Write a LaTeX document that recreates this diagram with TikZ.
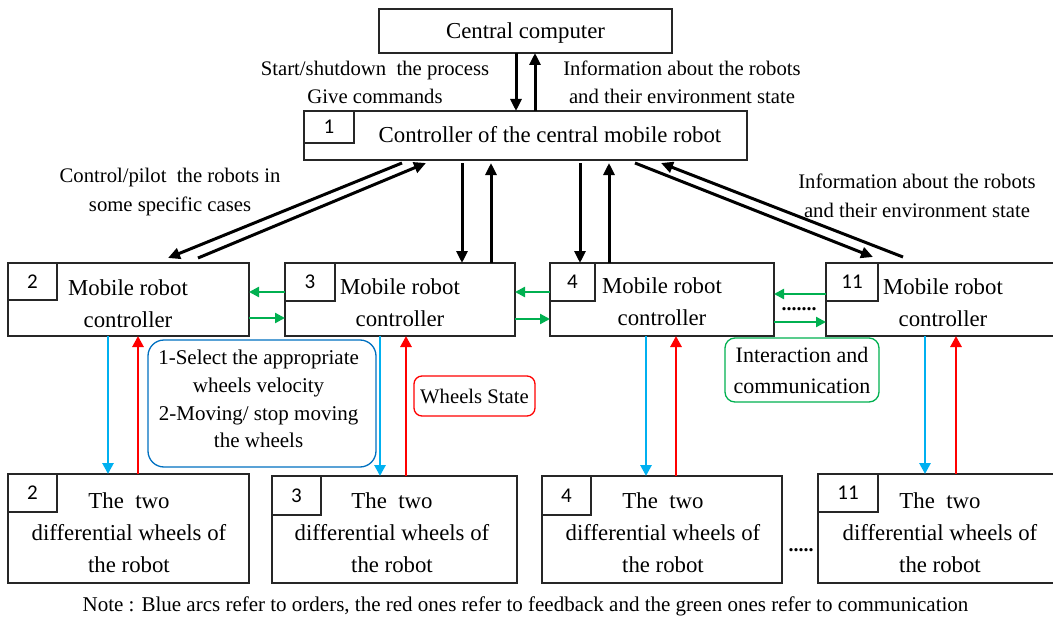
\documentclass[tikz,border=0pt]{standalone}
\usepackage{fontspec}
\setmainfont{Liberation Serif}
\newfontfamily\numfont{Carlito}
\usetikzlibrary{arrows.meta,calc}
\definecolor{ablue}{RGB}{0,176,240}
\definecolor{ared}{RGB}{255,0,0}
\definecolor{agreen}{RGB}{0,176,80}
\definecolor{bblue}{RGB}{0,112,192}
\begin{document}
\begin{tikzpicture}[x=1pt,y=-1pt,
  box/.style={draw=black!85, line width=1.3pt, inner sep=0pt, outer sep=0pt},
  numbox/.style={box, anchor=north west, font=\numfont\fontsize{21}{21}\selectfont},
  btxt/.style={font=\fontsize{22.8}{32}\selectfont, align=center, inner sep=0pt},
  ltxt/.style={font=\fontsize{20.7}{28.5}\selectfont, align=center, inner sep=0pt},
  karr/.style={line width=3pt, -{Triangle[length=12pt,width=11pt]}},
  barr/.style={ablue, line width=2.8pt, -{Triangle[length=11pt,width=11pt]}},
  rarr/.style={ared, line width=2.8pt, -{Triangle[length=11pt,width=11pt]}},
  garr/.style={agreen, line width=2.3pt, -{Triangle[length=10pt,width=10pt]}},
  rbox/.style={draw, line width=1.3pt, inner sep=0pt, align=center}
]
\useasboundingbox (0,0) rectangle (1053,618);
% top boxes
\node[box, minimum width=293pt, minimum height=44pt] (cc) at (525.5,31) {};
\node[btxt] (cct) at (525.5,33) {Central computer};
\node[box, minimum width=443pt, minimum height=49pt] (c1) at (525.5,135.5) {};
\node[numbox, minimum width=50pt, minimum height=32pt] (n1) at (c1.north west) {1};
\node[btxt] (c1t) at (550,135) {Controller of the central mobile robot};
% labels top
\node[ltxt] (l1) at (375,82.5) {Start/shutdown\ \ the process\\Give commands};
\node[ltxt] (l2) at (682,82.5) {Information about the robots\\and their environment state};
\node[ltxt] (l3) at (170,192) {Control/pilot\ \ the robots in\\some specific cases};
\node[ltxt] (l4) at (917,196) {Information about the robots\\and their environment state};
% row 2
\node[box, minimum width=241pt, minimum height=73pt] (m2) at (128.5,299.5) {};
\node[box, minimum width=230pt, minimum height=73pt] (m3) at (400,299.5) {};
\node[box, minimum width=224pt, minimum height=73pt] (m4) at (662,299.5) {};
\node[box, minimum width=236pt, minimum height=73pt] (m11) at (944,299.5) {};
\node[numbox, minimum width=49pt, minimum height=37pt] (n2) at (m2.north west) {2};
\node[numbox, minimum width=50pt, minimum height=38pt] (n3) at (m3.north west) {3};
\node[numbox, minimum width=45pt, minimum height=38pt] (n4) at (m4.north west) {4};
\node[numbox, minimum width=52pt, minimum height=38pt] (n11) at (m11.north west) {11};
\node[btxt] (m2t) at (128,303.5) {Mobile robot\\controller};
\node[btxt] (m3t) at (400,302.5) {Mobile robot\\controller};
\node[btxt] (m4t) at (662,301.5) {Mobile robot\\controller};
\node[btxt] (m11t) at (943,303) {Mobile robot\\controller};
% bottom row
\node[box, minimum width=241pt, minimum height=109pt] (b2) at (128.5,528.5) {};
\node[box, minimum width=245pt, minimum height=107pt] (b3) at (394.5,529.5) {};
\node[box, minimum width=240pt, minimum height=107pt] (b4) at (662,529.5) {};
\node[box, minimum width=244pt, minimum height=109pt] (b11) at (940,528.5) {};
\node[numbox, minimum width=49pt, minimum height=38pt] (nb2) at (b2.north west) {2};
\node[numbox, minimum width=49pt, minimum height=39pt] (nb3) at (b3.north west) {3};
\node[numbox, minimum width=49pt, minimum height=39pt] (nb4) at (b4.north west) {4};
\node[numbox, minimum width=60pt, minimum height=38pt] (nb11) at (b11.north west) {11};
\node[btxt] (b2t) at (129,532.5) {The\ \ two\\differential wheels of\\the robot};
\node[btxt] (b3t) at (392,533) {The\ \ two\\differential wheels of\\the robot};
\node[btxt] (b4t) at (663,533) {The\ \ two\\differential wheels of\\the robot};
\node[btxt] (b11t) at (940,532.5) {The\ \ two\\differential wheels of\\the robot};
% annotation boxes
\node[rbox, draw=bblue, rounded corners=16pt, minimum width=228pt, minimum height=127pt] (bl) at (262,403.5) {};
\node[btxt, font=\fontsize{21}{27.7}\selectfont] (blt) at (258.6,399)
      {1-Select the appropriate\\wheels velocity\\2-Moving/ stop moving\\the wheels};
\node[rbox, draw=ared, rounded corners=8pt, minimum width=121pt, minimum height=40pt,
      font=\fontsize{20.7}{24}\selectfont] (rd) at (474.5,396) {Wheels State};
\node[rbox, draw=agreen, rounded corners=10pt, minimum width=154pt, minimum height=64pt,
      font=\fontsize{22}{31}\selectfont] (gr) at (802,370) {Interaction and\\communication};
\node[font=\bfseries\fontsize{20}{20}\selectfont, inner sep=0pt] (d1) at (799,309) {.......};
\node[font=\bfseries\fontsize{20}{20}\selectfont, inner sep=0pt] (d2) at (801,550) {.....};
\node[ltxt, font=\fontsize{21}{24}\selectfont] (note) at (525.5,606)
  {Note : Blue arcs refer to orders, the red ones refer to feedback and the green ones refer to communication};
% black arrows
\draw[karr] ($(cc.south)+(-9.5,0)$) -- ($(c1.north)+(-9.5,0)$);
\draw[karr] ($(c1.north)+(9.5,0)$) -- ($(cc.south)+(9.5,0)$);
\draw[karr] ($(c1.south)+(-123.5,3)$) -- ($(m2.north)+(39.5,-5)$);
\draw[karr] ($(m2.north)+(69.5,-5)$) -- ($(c1.south)+(-99.5,3)$);
\draw[karr] ($(c1.south)+(-63.5,3)$) -- ($(m3.north)+(62,0)$);
\draw[karr] ($(m3.north)+(91,0)$) -- ($(c1.south)+(-34.5,3)$);
\draw[karr] ($(c1.south)+(54.5,3)$) -- ($(m4.north)+(-82,0)$);
\draw[karr] ($(m4.north)+(-53,0)$) -- ($(c1.south)+(83.5,3)$);
\draw[karr] ($(c1.south)+(109.5,3)$) -- ($(m11.north)+(-71,-6)$);
\draw[karr] ($(m11.north)+(-41,-6)$) -- ($(c1.south)+(135.5,3)$);
% green arrows
\draw[garr] ($(m3.west)+(0,-7.5)$) -- ($(m2.east)+(0,-7.5)$);
\draw[garr] ($(m2.east)+(0,18.5)$) -- ($(m3.west)+(0,18.5)$);
\draw[garr] ($(m4.west)+(0,-7.5)$) -- ($(m3.east)+(0,-7.5)$);
\draw[garr] ($(m3.east)+(0,19.5)$) -- ($(m4.west)+(0,19.5)$);
\draw[garr] ($(m11.west)+(0,-5.5)$) -- ($(m4.east)+(0,-5.5)$);
\draw[garr] ($(m4.east)+(0,22.5)$) -- ($(m11.west)+(0,22.5)$);
% blue / red arrows
\draw[barr] ($(m2.south)+(-20.5,0)$) -- ($(b2.north)+(-20.5,0)$);
\draw[rarr] ($(b2.north)+(9.5,0)$) -- ($(m2.south)+(9.5,0)$);
\draw[barr] ($(m3.south)+(-20,0)$) -- ($(b3.north)+(-14.5,0)$);
\draw[rarr] ($(b3.north)+(11.5,0)$) -- ($(m3.south)+(6,0)$);
\draw[barr] ($(m4.south)+(-16,0)$) -- ($(b4.north)+(-16,0)$);
\draw[rarr] ($(b4.north)+(14,0)$) -- ($(m4.south)+(14,0)$);
\draw[barr] ($(m11.south)+(-19,0)$) -- ($(b11.north)+(-15,0)$);
\draw[rarr] ($(b11.north)+(16,0)$) -- ($(m11.south)+(12,0)$);
\end{tikzpicture}
\end{document}
